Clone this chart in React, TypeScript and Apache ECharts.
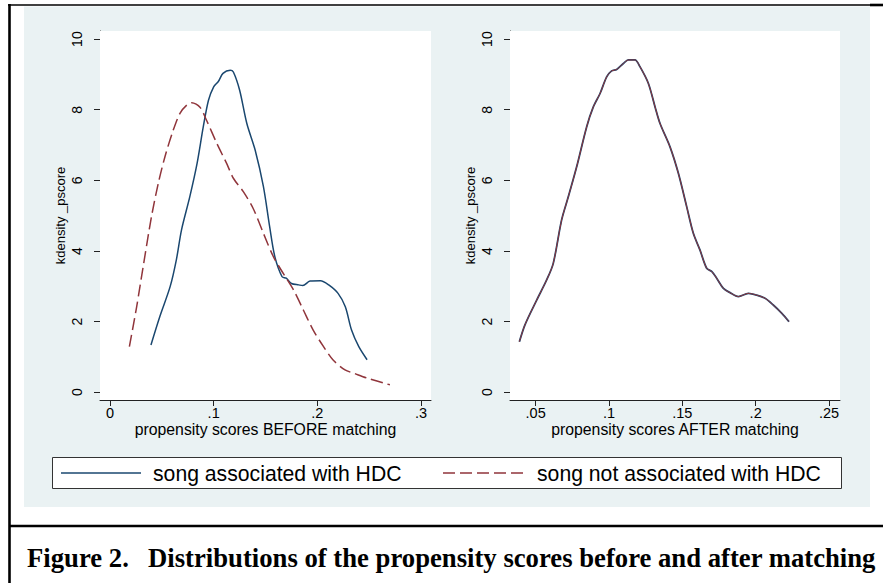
import React, { useEffect, useRef } from 'react';
import * as echarts from 'echarts';

// ---------- texts ----------
const seriesNames = ['song associated with HDC', 'song not associated with HDC'];
const xTitles = ['propensity scores BEFORE matching', 'propensity scores AFTER matching'];
const yTitle = 'kdensity _pscore';
const captionLabel = 'Figure 2.';
const captionText = 'Distributions of the propensity scores before and after matching';

// ---------- tick labels ----------
const yTicks = [0, 2, 4, 6, 8, 10];
const xTicksBefore = [0, 0.1, 0.2, 0.3];
const xTicksAfter = [0.05, 0.1, 0.15, 0.2, 0.25];

// ---------- data: BEFORE matching ----------
const beforeAssocX = [0.0395, 0.048, 0.058, 0.064, 0.069, 0.077, 0.084, 0.09, 0.095, 0.1, 0.1045, 0.109, 0.116, 0.119, 0.125, 0.132, 0.14, 0.148, 0.154, 0.159, 0.166, 0.17, 0.175, 0.182, 0.186, 0.193, 0.203, 0.211, 0.22, 0.227, 0.233, 0.24, 0.248];
const beforeAssocY = [1.34, 2.14, 2.99, 3.75, 4.6, 5.54, 6.48, 7.52, 8.27, 8.65, 8.8, 9.03, 9.12, 9.07, 8.56, 7.61, 6.86, 5.82, 4.69, 3.84, 3.27, 3.23, 3.08, 3.04, 3.02, 3.15, 3.16, 3.04, 2.8, 2.42, 1.76, 1.29, 0.92];

const beforeNotX = [0.0187, 0.0257, 0.032, 0.04, 0.0466, 0.053, 0.061, 0.0675, 0.074, 0.0788, 0.0868, 0.093, 0.103, 0.1125, 0.119, 0.1286, 0.138, 0.148, 0.1576, 0.167, 0.177, 0.1865, 0.196, 0.206, 0.215, 0.2267, 0.235, 0.248, 0.27];
const beforeNotY = [1.29, 2.42, 3.56, 4.97, 5.92, 6.67, 7.42, 7.9, 8.13, 8.2, 8.07, 7.71, 7.05, 6.48, 6.06, 5.68, 5.21, 4.5, 3.84, 3.37, 2.9, 2.33, 1.76, 1.29, 0.92, 0.63, 0.54, 0.4, 0.21];

// ---------- data: AFTER matching (both groups coincide) ----------
const afterX = [0.0389, 0.0427, 0.0507, 0.0575, 0.062, 0.0677, 0.0723, 0.078, 0.0848, 0.0893, 0.0939, 0.0984, 0.1018, 0.1052, 0.1098, 0.1132, 0.1177, 0.1211, 0.1268, 0.1314, 0.1348, 0.1416, 0.1473, 0.153, 0.1575, 0.162, 0.1666, 0.17, 0.1734, 0.178, 0.1825, 0.1882, 0.195, 0.2007, 0.2064, 0.212, 0.2177, 0.2227];
const afterAssocY = [1.43, 1.91, 2.61, 3.18, 3.65, 4.88, 5.54, 6.39, 7.52, 8.08, 8.46, 8.93, 9.1, 9.14, 9.31, 9.41, 9.41, 9.22, 8.75, 8.08, 7.61, 6.95, 6.2, 5.25, 4.5, 4.03, 3.51, 3.42, 3.23, 2.94, 2.82, 2.71, 2.8, 2.75, 2.66, 2.47, 2.24, 2.0];
const afterNotY = [1.43, 1.91, 2.61, 3.18, 3.65, 4.88, 5.54, 6.39, 7.52, 8.08, 8.46, 8.93, 9.1, 9.14, 9.31, 9.41, 9.41, 9.22, 8.75, 8.08, 7.61, 6.95, 6.2, 5.25, 4.5, 4.03, 3.51, 3.42, 3.23, 2.94, 2.82, 2.71, 2.8, 2.75, 2.66, 2.47, 2.24, 2.0];

const pair = (xs: number[], ys: number[]) => xs.map((x, i) => [x, ys[i]]);

const NAVY = '#1a476f';
const MAROON = '#90353b';
const PANEL = '#eaf2f3';
const GRIDLINE = '#e4edef';
const AXIS = '#222';
const SANS = '"Liberation Sans", Arial, Helvetica, sans-serif';
const SERIF = '"Liberation Serif", "Times New Roman", serif';

const fmt = (v: number) => (v === 0 ? '0' : String(v).replace(/^0\./, '.'));

function makeX(gridIndex: number, min: number, max: number, ticks: number[], name: string) {
  return {
    type: 'value', gridIndex, min, max, name,
    nameLocation: 'middle', nameGap: 21, nameMoveOverlap: false,
    nameTextStyle: { fontSize: 15.8, color: '#000', fontFamily: SANS, lineHeight: 16 },
    axisLine: { show: true, onZero: false, lineStyle: { color: AXIS, width: 1 } },
    axisTick: { show: true, length: 6, customValues: ticks, lineStyle: { color: AXIS } },
    axisLabel: { customValues: ticks, formatter: fmt, fontSize: 14.5, lineHeight: 14, color: '#000', margin: 6, fontFamily: SANS },
    splitLine: { show: false },
  };
}

function makeY(gridIndex: number) {
  return {
    type: 'value', gridIndex, min: -0.22, max: 10.23, name: yTitle,
    nameLocation: 'middle', nameRotate: 90, nameGap: 33, nameMoveOverlap: false,
    nameTextStyle: { fontSize: 13, color: '#000', fontFamily: SANS },
    axisLine: { show: true, onZero: false, lineStyle: { color: AXIS, width: 1 } },
    axisTick: { show: true, length: 6, customValues: yTicks, lineStyle: { color: AXIS } },
    axisLabel: { customValues: yTicks, rotate: 90, fontSize: 14, color: '#000', margin: 16, fontFamily: SANS },
    splitLine: { show: true, lineStyle: { color: GRIDLINE, width: 1 } },
  };
}

export default function App() {
  const ref = useRef<HTMLDivElement>(null);
  useEffect(() => {
    const chart = echarts.init(ref.current!, null, { renderer: 'svg' });
    const option: any = {
      animation: false,
      backgroundColor: '#fff',
      grid: [
        { left: 100, top: 31, width: 331, height: 369, show: true, backgroundColor: '#fff', borderWidth: 0, z: 1 },
        { left: 510, top: 31, width: 330, height: 369, show: true, backgroundColor: '#fff', borderWidth: 0, z: 1 },
      ],
      xAxis: [
        makeX(0, -0.00965, 0.30965, xTicksBefore, xTitles[0]),
        makeX(1, 0.0325, 0.2575, xTicksAfter, xTitles[1]),
      ],
      yAxis: [makeY(0), makeY(1)],
      series: [
        {
          name: seriesNames[0], type: 'line', xAxisIndex: 0, yAxisIndex: 0,
          data: pair(beforeAssocX, beforeAssocY), showSymbol: false, smooth: 0.3,
          lineStyle: { color: NAVY, width: 1.5 }, z: 3,
        },
        {
          name: seriesNames[1], type: 'line', xAxisIndex: 0, yAxisIndex: 0,
          data: pair(beforeNotX, beforeNotY), showSymbol: false, smooth: 0.3,
          lineStyle: { color: MAROON, width: 1.5, type: [12, 5] }, z: 3,
        },
        {
          name: seriesNames[0], type: 'line', xAxisIndex: 1, yAxisIndex: 1,
          data: pair(afterX, afterAssocY), showSymbol: false, smooth: 0.3,
          lineStyle: { color: NAVY, width: 1.8 }, z: 3,
        },
        {
          name: seriesNames[1], type: 'line', xAxisIndex: 1, yAxisIndex: 1,
          data: pair(afterX, afterNotY), showSymbol: false, smooth: 0.3,
          lineStyle: { color: MAROON, width: 1 }, z: 4,
        },
      ],
      graphic: [
        // Stata graph region
        { type: 'rect', z: -10, silent: true, shape: { x: 24, y: 6.5, width: 846, height: 500.5 }, style: { fill: PANEL } },
        // table borders
        { type: 'line', z: 10, silent: true, shape: { x1: 8, y1: 5, x2: 883, y2: 5 }, style: { stroke: '#000', lineWidth: 1.6 } },
        { type: 'line', z: 10, silent: true, shape: { x1: 870, y1: 5, x2: 883, y2: 5 }, style: { stroke: '#000', lineWidth: 2.6 } },
        { type: 'line', z: 10, silent: true, shape: { x1: 9.5, y1: 4, x2: 9.5, y2: 583 }, style: { stroke: '#000', lineWidth: 2.6 } },
        { type: 'line', z: 10, silent: true, shape: { x1: 9, y1: 526, x2: 883, y2: 526 }, style: { stroke: '#000', lineWidth: 2.6 } },
        // legend
        { type: 'rect', z: 10, silent: true, shape: { x: 52.5, y: 457.5, width: 789, height: 31 }, style: { fill: '#fff', stroke: '#333', lineWidth: 1 } },
        { type: 'line', z: 11, silent: true, shape: { x1: 61, y1: 473, x2: 141, y2: 473 }, style: { stroke: NAVY, lineWidth: 1.6 } },
        { type: 'text', z: 11, silent: true, x: 153, y: 473, style: { text: seriesNames[0], fontSize: 21.2, fontFamily: SANS, fill: '#000', verticalAlign: 'middle', align: 'left' } },
        { type: 'line', z: 11, silent: true, shape: { x1: 443, y1: 473, x2: 523, y2: 473 }, style: { stroke: MAROON, lineWidth: 1.6, lineDash: [12, 5] } },
        { type: 'text', z: 11, silent: true, x: 537, y: 473, style: { text: seriesNames[1], fontSize: 21.2, fontFamily: SANS, fill: '#000', verticalAlign: 'middle', align: 'left' } },
        // caption
        { type: 'text', z: 11, silent: true, x: 27, y: 558, style: { text: captionLabel, fontSize: 26.7, fontWeight: 'bold', fontFamily: SERIF, fill: '#000', verticalAlign: 'middle', align: 'left' } },
        { type: 'text', z: 11, silent: true, x: 148, y: 558, style: { text: captionText, fontSize: 26.7, fontWeight: 'bold', fontFamily: SERIF, fill: '#000', verticalAlign: 'middle', align: 'left' } },
      ],
    };
    chart.setOption(option);
    return () => chart.dispose();
  }, []);
  return <div ref={ref} style={{ position: 'absolute', left: 0, top: 0, width: 883, height: 583 }} />;
}
